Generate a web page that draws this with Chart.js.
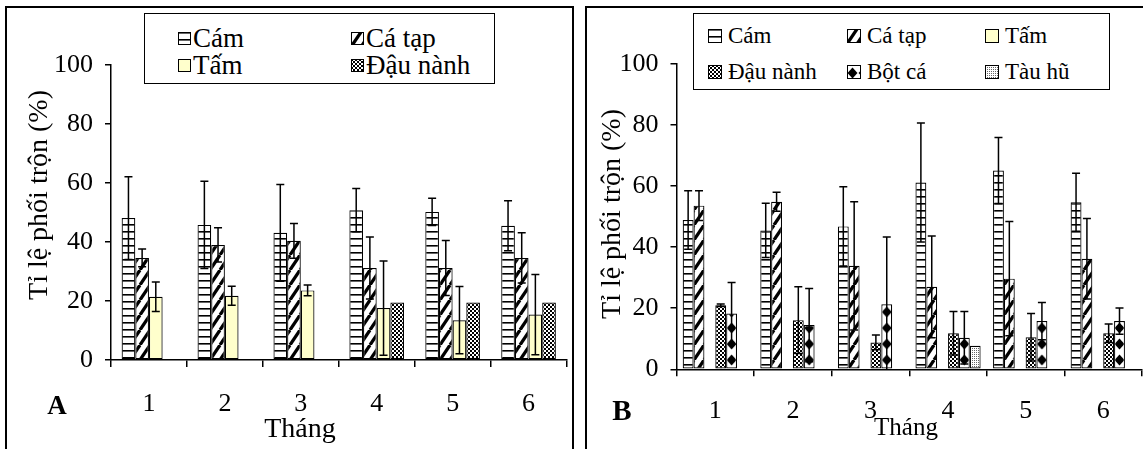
<!DOCTYPE html>
<html lang="vi">
<head>
  <meta charset="UTF-8">
  <title>Tỉ lệ phối trộn thức ăn</title>
  <style>
    body {
      margin: 0;
      background: #fff;
      font-family: 'Liberation Serif', 'Times New Roman', serif;
    }
    #page {
      position: relative;
      width: 1143px;
      height: 449px;
      overflow: hidden;
    }
    .panel {
      position: absolute;
      border: 2px solid #000;
    }
    #page > canvas {
      position: absolute;
      top: 0;
    }
    .txt {
      position: absolute;
      font-size: 28px;
      white-space: nowrap;
      transform: translate(-50%, -50%);
    }
    .ytitle {
      transform: translate(-50%, -50%) rotate(-90deg);
    }
    .legend {
      position: absolute;
      border: 1px solid #000;
      background: #fff;
    }
    .item {
      position: absolute;
      height: 30px;
      display: flex;
      align-items: center;
      white-space: nowrap;
    }
  </style>
</head>
<body>
<div id="page">
  <div class="panel" style="left:5px; top:6px; width:565px; height:460px;"></div>
  <div class="panel" style="left:585px; top:6px; width:600px; height:460px;"></div>

  <canvas id="chartA" width="572" height="449" style="left:0;"></canvas>
  <canvas id="chartB" width="569" height="449" style="left:574px;"></canvas>

  <div class="txt ytitle" style="left:38px; top:195px;">Tỉ lệ phối trộn (%)</div>
  <div class="txt ytitle" style="left:611px; top:214px;">Tỉ lệ phối trộn (%)</div>
  <div class="txt" style="left:300px; top:428px;">Tháng</div>
  <div class="txt" style="left:906px; top:427px; font-size:25px;">Tháng</div>
  <div class="txt" style="left:57px; top:405px; font-weight:bold; font-size:27px;">A</div>
  <div class="txt" style="left:622px; top:410px; font-weight:bold; font-size:29px;">B</div>

  <div class="legend" id="legendA" style="left:144px; top:13px; width:349px; height:69px;"></div>
  <div class="legend" id="legendB" style="left:693px; top:13px; width:415px; height:75px;"></div>
</div>

<script src="https://cdn.jsdelivr.net/npm/chart.js"></script>
<script>
  // Tháng
  const months = ['1', '2', '3', '4', '5', '6'];

  // Hình A
  const camA = [48.1, 45.8, 43.1, 50.8, 50.2, 45.5];
  const camA_sd = [14.0, 14.8, 16.4, 7.3, 4.6, 8.5];
  const caTapA = [34.6, 39.0, 40.4, 31.2, 31.2, 34.6];
  const caTapA_sd = [3.0, 5.8, 5.9, 10.5, 9.3, 8.5];
  const tamA = [21.4, 21.8, 23.6, 17.6, 13.5, 15.4];
  const tamA_sd = [5.0, 3.2, 1.8, 16.0, 11.4, 13.6];
  const dauNanhA = [null, null, null, 19.5, 19.5, 19.5];

  // Hình B
  const camB = [48.9, 45.5, 46.8, 61.2, 65.1, 54.7];
  const camB_sd = [9.6, 8.9, 13.0, 19.5, 10.8, 9.5];
  const caTapB = [53.6, 54.9, 33.9, 27.0, 29.7, 36.2];
  const caTapB_sd = [4.9, 3.1, 21.0, 16.7, 18.7, 13.2];
  const tamB = [null, null, null, null, null, null];
  const dauNanhB = [21.0, 16.1, 8.8, 11.8, 10.5, 11.8];
  const dauNanhB_sd = [0.4, 10.9, 2.4, 7.1, 7.8, 3.0];
  const botCaB = [18.3, 14.5, 21.3, 10.3, 15.8, 15.8];
  const botCaB_sd = [10.1, 12.0, 22.0, 8.6, 6.1, 4.3];
  const tauHuB = [null, null, null, 7.7, null, null];

  const yTicks = [0, 20, 40, 60, 80, 100];

  const FONT = 'Liberation Serif';

  // tile drawing for the fill patterns
  function drawTile(kind) {
    const c = document.createElement('canvas');
    const g = c.getContext('2d');
    if (kind === 'hstripe') {
      c.width = 8; c.height = 7;
      g.fillStyle = '#fff'; g.fillRect(0, 0, 8, 7);
      g.fillStyle = '#000'; g.fillRect(0, 0, 8, 1.6);
    } else if (kind === 'diag') {
      c.width = 10; c.height = 15;
      g.fillStyle = '#fff'; g.fillRect(0, 0, 10, 15);
      g.strokeStyle = '#000'; g.lineWidth = 3.2;
      for (let k = -1; k <= 1; k++) {
        g.beginPath();
        g.moveTo(k * 10, 15);
        g.lineTo(k * 10 + 10, 0);
        g.stroke();
      }
    } else if (kind === 'yellow') {
      c.width = 2; c.height = 2;
      g.fillStyle = '#ffffcc'; g.fillRect(0, 0, 2, 2);
    } else if (kind === 'check') {
      c.width = 4; c.height = 4;
      g.fillStyle = '#fff'; g.fillRect(0, 0, 4, 4);
      g.fillStyle = '#000';
      g.fillRect(0, 0, 2, 2);
      g.fillRect(2, 2, 2, 2);
    } else if (kind === 'diamond') {
      c.width = 11; c.height = 16;
      g.fillStyle = '#fff'; g.fillRect(0, 0, 11, 16);
      g.fillStyle = '#000';
      g.beginPath();
      g.moveTo(5.5, 2.5); g.lineTo(10.5, 8); g.lineTo(5.5, 13.5); g.lineTo(0.5, 8);
      g.closePath(); g.fill();
    } else if (kind === 'dots') {
      c.width = 2; c.height = 2;
      g.fillStyle = '#fff'; g.fillRect(0, 0, 2, 2);
      g.fillStyle = '#666'; g.fillRect(0, 0, 1, 1);
    }
    return c;
  }

  const errorBars = {
    id: 'errorBars',
    afterDatasetsDraw(chart) {
      const ctx = chart.ctx;
      const y = chart.scales.y;
      chart.data.datasets.forEach((ds, i) => {
        if (!ds.errors) return;
        chart.getDatasetMeta(i).data.forEach((bar, j) => {
          const v = ds.data[j];
          const e = ds.errors[j];
          if (v == null || e == null) return;
          const top = y.getPixelForValue(v + e);
          const low = v - e;
          const bot = y.getPixelForValue(Math.max(0, low));
          ctx.save();
          ctx.strokeStyle = '#000';
          ctx.lineWidth = 1.5;
          ctx.beginPath();
          ctx.moveTo(bar.x, top); ctx.lineTo(bar.x, bot);
          ctx.moveTo(bar.x - 4, top); ctx.lineTo(bar.x + 4, top);
          if (low > 0) {
            ctx.moveTo(bar.x - 4, bot); ctx.lineTo(bar.x + 4, bot);
          }
          ctx.stroke();
          ctx.restore();
        });
      });
    }
  };

  function makeChart(id, series, opt) {
    const canvas = document.getElementById(id);
    const ctx = canvas.getContext('2d');
    const n = series.length;
    const datasets = series.map(s => {
      const tile = drawTile(s.kind);
      const base = ctx.createPattern(tile, 'repeat');
      let bg = base;
      if (s.kind === 'diamond') {
        // keep the diamonds centred in each bar
        bg = (c) => {
          const xs = c.chart.scales.x;
          if (!xs || c.dataIndex === undefined || !xs.width) return base;
          const catW = xs.width / months.length;
          const barW = catW * opt.catPct / n;
          const left = xs.getPixelForValue(c.dataIndex) - catW * opt.catPct / 2 + c.datasetIndex * barW;
          const p = ctx.createPattern(tile, 'repeat');
          p.setTransform(new DOMMatrix().translate(left + (barW - 11) / 2, 0));
          return p;
        };
      }
      return {
        label: s.label,
        data: s.data,
        errors: s.errors || null,
        backgroundColor: bg,
        borderColor: '#000',
        borderWidth: 1.2,
        borderSkipped: false,
        categoryPercentage: opt.catPct,
        barPercentage: 1.0
      };
    });
    return new Chart(ctx, {
      type: 'bar',
      data: { labels: months, datasets: datasets },
      options: {
        responsive: false,
        animation: false,
        devicePixelRatio: 1,
        layout: { padding: { top: opt.top, right: opt.right, left: 0, bottom: 0 } },
        plugins: { legend: { display: false }, tooltip: { enabled: false } },
        scales: {
          x: {
            grid: { drawOnChartArea: false, tickLength: 7, color: '#000', lineWidth: 1.5, offset: true },
            border: { color: '#000', width: 1.5 },
            ticks: { color: '#000', font: { family: FONT, size: 26 }, padding: opt.xPad },
            afterFit(s) { s.height = opt.xHeight; }
          },
          y: {
            min: 0,
            max: 100,
            afterBuildTicks(s) { s.ticks = yTicks.map(v => ({ value: v })); },
            grid: { drawOnChartArea: false, tickLength: 6, color: '#000', lineWidth: 1.5 },
            border: { color: '#000', width: 1.5 },
            ticks: { color: '#000', font: { family: FONT, size: 26 }, padding: 12 },
            afterFit(s) { s.width = opt.yWidth; }
          }
        }
      },
      plugins: [errorBars]
    });
  }

  makeChart('chartA', [
    { label: 'Cám', kind: 'hstripe', data: camA, errors: camA_sd },
    { label: 'Cá tạp', kind: 'diag', data: caTapA, errors: caTapA_sd },
    { label: 'Tấm', kind: 'yellow', data: tamA, errors: tamA_sd },
    { label: 'Đậu nành', kind: 'check', data: dauNanhA }
  ], { catPct: 0.72, top: 65, right: 5.5, xHeight: 89, yWidth: 111, xPad: 22 });

  makeChart('chartB', [
    { label: 'Cám', kind: 'hstripe', data: camB, errors: camB_sd },
    { label: 'Cá tạp', kind: 'diag', data: caTapB, errors: caTapB_sd },
    { label: 'Tấm', kind: 'yellow', data: tamB },
    { label: 'Đậu nành', kind: 'check', data: dauNanhB, errors: dauNanhB_sd },
    { label: 'Bột cá', kind: 'diamond', data: botCaB, errors: botCaB_sd },
    { label: 'Tàu hũ', kind: 'dots', data: tauHuB }
  ], { catPct: 0.84, top: 64, right: 1, xHeight: 79.7, yWidth: 102.5, xPad: 19 });

  // legends (boxes sit inside the plot like the original)
  function buildLegend(id, items, cols, rows, size, sw, gap) {
    const box = document.getElementById(id);
    items.forEach((it, i) => {
      const div = document.createElement('div');
      div.className = 'item';
      div.style.fontSize = size + 'px';
      div.style.left = cols[i % cols.length] + 'px';
      div.style.top = (rows[Math.floor(i / cols.length)] - 15) + 'px';
      const c = document.createElement('canvas');
      c.width = sw; c.height = sw;
      c.style.marginRight = gap + 'px';
      const g = c.getContext('2d');
      g.fillStyle = g.createPattern(drawTile(it[1]), 'repeat');
      g.fillRect(0, 0, sw, sw);
      g.strokeStyle = '#000'; g.lineWidth = 1;
      g.strokeRect(0.5, 0.5, sw - 1, sw - 1);
      div.appendChild(c);
      div.appendChild(document.createTextNode(it[0]));
      box.appendChild(div);
    });
  }

  buildLegend('legendA',
    [['Cám', 'hstripe'], ['Cá tạp', 'diag'], ['Tấm', 'yellow'], ['Đậu nành', 'check']],
    [33, 206], [24, 51], 27, 13, 2);
  buildLegend('legendB',
    [['Cám', 'hstripe'], ['Cá tạp', 'diag'], ['Tấm', 'yellow'],
     ['Đậu nành', 'check'], ['Bột cá', 'diamond'], ['Tàu hũ', 'dots']],
    [14, 153, 291], [22, 58], 23, 14, 6);
</script>
</body>
</html>
